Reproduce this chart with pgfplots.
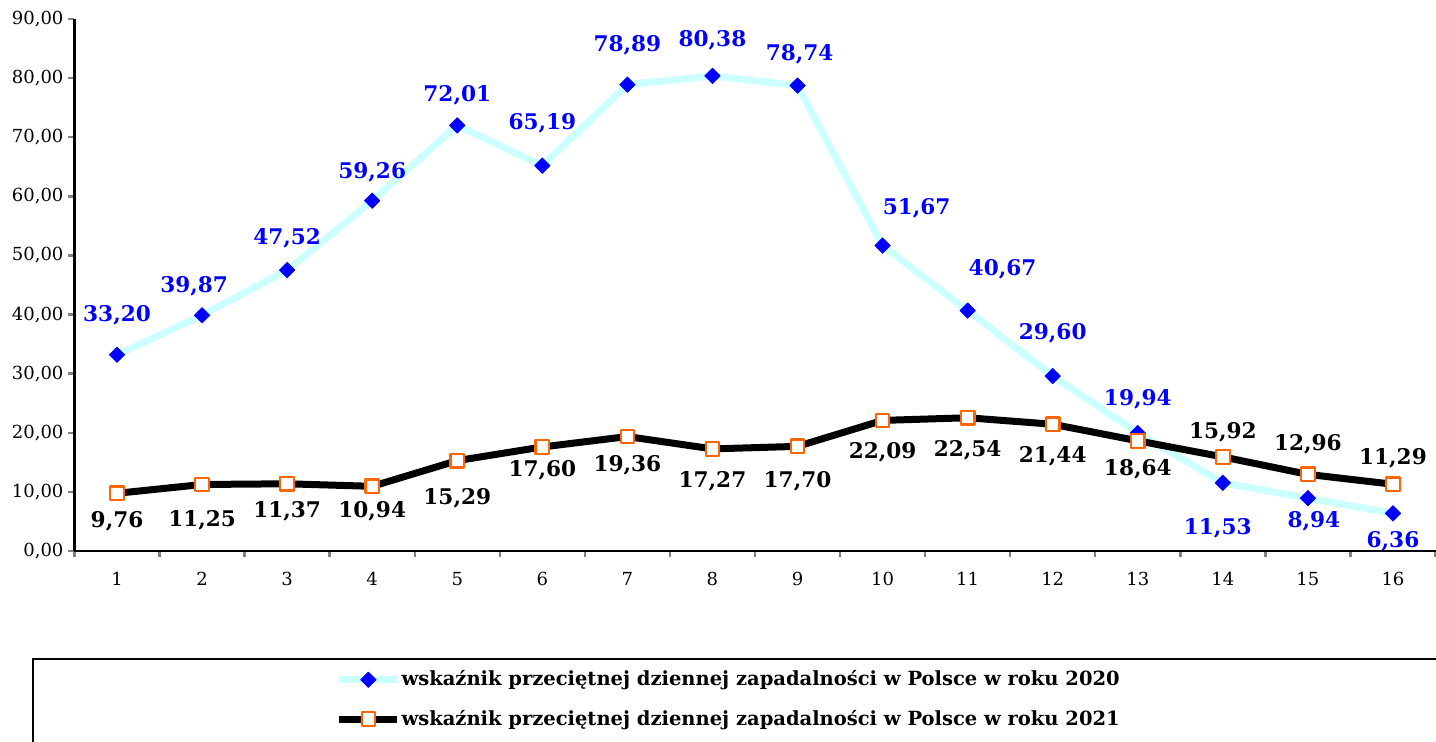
\documentclass[border=0pt]{standalone}
\usepackage{fontspec}
\setmainfont{DejaVu Serif}
\usepackage{pgfplots}
\pgfplotsset{compat=1.18}
\usepackage{pgfplotstable}
\definecolor{lcyan}{HTML}{CCFFFF}
\definecolor{mblue}{HTML}{0000FF}
\definecolor{morange}{HTML}{FF6600}

% values 2020: x y ; label position lx ly ; label text
\pgfplotstableread{
x y lx ly lab
1 33.20 1 39.80 33,20
2 39.87 1.906 44.78 39,87
3 47.52 3 52.93 47,52
4 59.26 4 64.00 59,26
5 72.01 5 77.09 72,01
6 65.19 6 72.30 65,19
7 78.89 7 85.49 78,89
8 80.38 8 86.47 80,38
9 78.74 9.024 83.98 78,74
10 51.67 10.40 57.93 51,67
11 40.67 11.41 47.61 40,67
12 29.60 12 36.87 29,60
13 19.94 13 25.69 19,94
14 11.53 13.94 3.92 11,53
15 8.94 15.07 5.05 8,94
16 6.36 16 1.62 6,36
}\tA

\pgfplotstableread{
x y lx ly lab
1 9.76 1 5.02 9,76
2 11.25 2 5.24 11,25
3 11.37 3 6.77 11,37
4 10.94 4 6.78 10,94
5 15.29 5 8.96 15,29
6 17.60 6 13.71 17,60
7 19.36 7 14.56 19,36
8 17.27 8 11.86 17,27
9 17.70 9 11.85 17,70
10 22.09 10 16.74 22,09
11 22.54 11 17.09 22,54
12 21.44 12 16.09 21,44
13 18.64 13 13.87 18,64
14 15.92 14 20.15 15,92
15 12.96 15 18.10 12,96
16 11.29 16 15.69 11,29
}\tB

\begin{document}
\begin{tikzpicture}
\clip (-37.25pt,-95.5pt) rectangle (680.75pt,275.5pt);
\begin{axis}[
  scale only axis,
  width=680.5pt, height=266pt,
  xmin=0.5, xmax=16.5, ymin=0, ymax=90,
  axis x line*=bottom, axis y line*=left,
  axis line style={-, line width=1.4pt},
  xtick={1,...,16},
  major x tick style={draw=none},
  minor xtick={0.5,1.5,...,16.5},
  minor x tick style={line width=1.2pt},
  minor tick length=3pt,
  ytick={0,10,...,90},
  major y tick style={line width=1.2pt},
  major tick length=3pt,
  tick align=outside,
  xticklabel style={yshift=-4pt},
  yticklabel style={xshift=1pt},
  ticklabel style={font=\fontsize{9}{10}\selectfont},
  yticklabel={\pgfmathprintnumber[fixed,fixed zerofill,precision=2,use comma,assume math mode=true]{\tick}},
  xticklabel={\pgfmathprintnumber[assume math mode=true]{\tick}},
  legend style={at={(axis description cs:0.1918,-0.279)}, anchor=west, draw=none, fill=none,
    font=\fontsize{9.75}{11}\selectfont\bfseries, inner sep=0pt, row sep=10pt,
    nodes={inner sep=0.3pt}},
  legend cell align=left,
  legend image code/.code={\draw[mark repeat=2,mark phase=2,#1] plot coordinates {(0pt,0pt) (14.5pt,0pt) (29pt,0pt)};},
  lbl/.style={forget plot, draw=none, mark=none,
    nodes near coords, point meta=explicit symbolic,
    nodes near coords style={font=\fontsize{10.8}{12}\selectfont\bfseries, text=#1, anchor=center}},
]
\addplot[color=lcyan, line width=3.5pt, line join=round, mark=square*, mark size=2.75pt,
  mark options={rotate=45, fill=mblue, draw=mblue, line width=0.3pt}]
  table[x=x,y=y] {\tA};
\addlegendentry{wskaźnik przeciętnej dziennej zapadalności w Polsce w roku 2020}
\addplot[color=black, line width=3.5pt, line join=round, mark=square*, mark size=3.4pt,
  mark options={fill=white, draw=morange, line width=1.1pt}]
  table[x=x,y=y] {\tB};
\addlegendentry{wskaźnik przeciętnej dziennej zapadalności w Polsce w roku 2021}
\addplot[lbl=mblue] table[x=lx,y=ly,meta=lab] {\tA};
\addplot[lbl=black] table[x=lx,y=ly,meta=lab] {\tB};
\end{axis}
\draw[line width=1pt] (-20.75pt,-54pt) rectangle (720pt,-120pt);
\end{tikzpicture}
\end{document}
